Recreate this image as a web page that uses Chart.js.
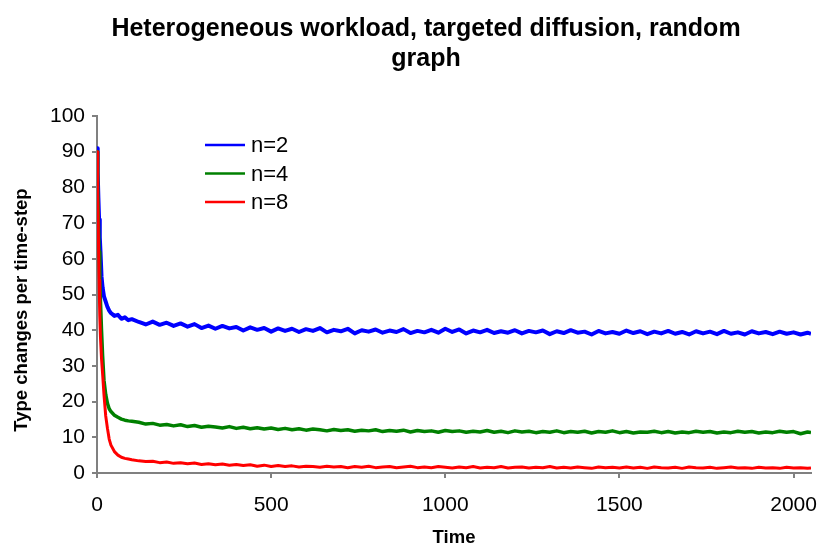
<!DOCTYPE html>
<html>
<head>
<meta charset="utf-8">
<title>Heterogeneous workload, targeted diffusion, random graph</title>
<script src="https://cdn.jsdelivr.net/npm/chart.js@4.4.1/dist/chart.umd.min.js"></script>
<style>
    html, body { margin: 0; padding: 0; background: #fff; }
    #wrap { position: relative; width: 817px; height: 549px; }
</style>
</head>
<body>
<div id="wrap"><canvas id="typeChart"></canvas></div>
<script>
/* --- Data --- */
const titleLines = ['Heterogeneous workload, targeted diffusion, random', 'graph'];
const yAxisTitle = 'Type changes per time-step';
const xAxisTitle = 'Time';
const seriesLabels = ['n=2', 'n=4', 'n=8'];
const seriesColors = ['#0000ff', '#008000', '#ff0000'];
const xTickValues = [0, 500, 1000, 1500, 2000];

const times = [
    0, 2, 4, 6, 8, 10, 13, 16, 20, 25,
    30, 35, 40, 50, 60, 70, 80, 90, 100, 120,
    140, 160, 180, 200, 220, 240, 260, 280, 300, 320,
    340, 360, 380, 400, 420, 440, 460, 480, 500, 520,
    540, 560, 580, 600, 620, 640, 660, 680, 700, 720,
    740, 760, 780, 800, 820, 840, 860, 880, 900, 920,
    940, 960, 980, 1000, 1020, 1040, 1060, 1080, 1100, 1120,
    1140, 1160, 1180, 1200, 1220, 1240, 1260, 1280, 1300, 1320,
    1340, 1360, 1380, 1400, 1420, 1440, 1460, 1480, 1500, 1520,
    1540, 1560, 1580, 1600, 1620, 1640, 1660, 1680, 1700, 1720,
    1740, 1760, 1780, 1800, 1820, 1840, 1860, 1880, 1900, 1920,
    1940, 1960, 1980, 2000, 2020, 2040, 2050
];

const n2 = [
    91, 84, 77, 71, 66, 62, 55, 52, 49.5, 48,
    46.5, 45.5, 44.8, 44, 44.3, 43.2, 43.6, 42.8, 43.1, 42.3,
    41.6, 42.4, 41.5, 42.1, 41.2, 41.9, 41.0, 41.7, 40.6, 41.3,
    40.4, 41.2, 40.5, 40.9, 39.9, 40.8, 40.1, 40.6, 39.6, 40.5,
    39.8, 40.4, 39.5, 40.3, 39.8, 40.6, 39.4, 40.1, 39.7, 40.4,
    39.1, 40.0, 39.6, 40.2, 39.3, 39.9, 39.5, 40.3, 39.2, 39.8,
    39.4, 40.1, 39.3, 40.4, 39.5, 40.2, 39.1, 39.9, 39.4, 40.1,
    39.2, 39.7, 39.3, 40.0, 39.1, 39.8, 39.4, 39.9, 38.9, 39.7,
    39.2, 40.0, 39.3, 39.6, 38.8, 39.8, 39.1, 39.5, 39.0, 39.9,
    39.2, 39.7, 38.9, 39.6, 39.1, 39.8, 39.0, 39.5, 38.8, 39.7,
    39.1, 39.6, 38.9, 39.8, 39.0, 39.4, 38.8, 39.7, 39.1, 39.5,
    38.9, 39.6, 39.0, 39.4, 38.8, 39.3, 39.0
];

const n4 = [
    90, 80, 70, 62, 54, 48, 40, 33, 26, 22,
    19.5, 18, 17.2, 16.2, 15.6, 15.1, 14.8, 14.6, 14.5, 14.2,
    13.7, 13.9, 13.4, 13.6, 13.2, 13.5, 13.0, 13.3, 12.8, 13.1,
    12.9, 12.6, 13.0, 12.5, 12.8, 12.4, 12.7, 12.3, 12.6, 12.2,
    12.5, 12.1, 12.4, 12.0, 12.3, 12.1, 11.8, 12.2, 11.9, 12.1,
    11.7, 12.0, 11.8, 12.1, 11.6, 11.9, 11.7, 12.0, 11.5, 11.9,
    11.6, 11.8, 11.4, 11.9, 11.6, 11.8, 11.4, 11.7, 11.5, 11.9,
    11.4, 11.7, 11.3, 11.8, 11.5, 11.7, 11.3, 11.6, 11.4, 11.8,
    11.3, 11.6, 11.4, 11.7, 11.2, 11.6, 11.4, 11.8, 11.3, 11.6,
    11.2, 11.5, 11.4, 11.7, 11.3, 11.6, 11.2, 11.5, 11.3, 11.7,
    11.4, 11.6, 11.2, 11.5, 11.3, 11.7, 11.4, 11.6, 11.2, 11.5,
    11.3, 11.7, 11.4, 11.6, 11.0, 11.5, 11.3
];

const n8 = [
    90, 78, 66, 54, 44, 38, 32, 28, 22, 16,
    12.5, 9.5, 7.8, 6.0, 5.0, 4.4, 4.1, 3.9, 3.7, 3.4,
    3.2, 3.3, 2.9, 3.1, 2.7, 2.9, 2.6, 2.8, 2.4, 2.6,
    2.3, 2.5, 2.2, 2.4, 2.1, 2.3, 1.9, 2.2, 1.8, 2.1,
    1.8, 2.0, 1.7, 1.9, 1.8, 1.6, 1.9, 1.7, 1.8, 1.5,
    1.8, 1.6, 1.9, 1.5, 1.7, 1.8, 1.5, 1.7, 1.9, 1.5,
    1.7, 1.5, 1.8, 1.6, 1.4, 1.7, 1.5, 1.8, 1.4, 1.6,
    1.5, 1.8, 1.4, 1.6, 1.7, 1.4, 1.6, 1.5, 1.8, 1.4,
    1.6, 1.4, 1.7, 1.5, 1.3, 1.7, 1.5, 1.6, 1.4, 1.7,
    1.4, 1.6, 1.3, 1.7, 1.5, 1.4, 1.6, 1.3, 1.7, 1.5,
    1.4, 1.6, 1.3, 1.5, 1.7, 1.4, 1.5, 1.3, 1.6, 1.4,
    1.5, 1.3, 1.6, 1.4, 1.5, 1.3, 1.4
];

const seriesValues = [n2, n4, n8];
const seriesWidths = [4, 3.5, 3];

/* --- Plugins --- */
const fontFamily = '"Liberation Sans", Arial, sans-serif';

// two-line bold title plus the rotated y title (both sit off-centre in the original)
const titlePlugin = {
    id: 'twoLineTitle',
    afterDraw(chart) {
        const ctx = chart.ctx;
        ctx.save();
        ctx.fillStyle = '#000';
        ctx.font = 'bold 25px ' + fontFamily;
        ctx.textAlign = 'center';
        ctx.textBaseline = 'alphabetic';
        ctx.fillText(titleLines[0], 426, 36);
        ctx.fillText(titleLines[1], 426, 66);

        ctx.font = 'bold 18.5px ' + fontFamily;
        ctx.textBaseline = 'middle';
        ctx.translate(22, 310);
        ctx.rotate(-Math.PI / 2);
        ctx.fillText(yAxisTitle, 0, 0);
        ctx.restore();
    }
};

// legend sits inside the plot area, top-left
const innerLegend = {
    id: 'innerLegend',
    afterDraw(chart) {
        const ctx = chart.ctx;
        ctx.save();
        ctx.font = '22px ' + fontFamily;
        ctx.textBaseline = 'middle';
        chart.data.datasets.forEach((ds, i) => {
            const y = 145 + i * 28.5;
            ctx.strokeStyle = ds.borderColor;
            ctx.lineWidth = 2.5;
            ctx.beginPath();
            ctx.moveTo(205, y);
            ctx.lineTo(245, y);
            ctx.stroke();
            ctx.fillStyle = '#000';
            ctx.fillText(ds.label, 251, y + 1);
        });
        ctx.restore();
    }
};

/* --- Chart.js Setup --- */
const axisGrey = '#808080';
const tickFont = { family: fontFamily, size: 21 };
const titleFont = { family: fontFamily, size: 18.5, weight: 'bold' };

const ctx = document.getElementById('typeChart').getContext('2d');
new Chart(ctx, {
    type: 'line',
    data: {
        datasets: seriesValues.map((vals, i) => ({
            label: seriesLabels[i],
            data: times.map((t, k) => ({ x: t, y: vals[k] })),
            borderColor: seriesColors[i],
            borderWidth: seriesWidths[i],
            borderJoinStyle: 'round',
            pointRadius: 0,
            tension: 0,
            order: 3 - i
        }))
    },
    options: {
        responsive: true,
        maintainAspectRatio: false,
        animation: false,
        layout: { padding: { top: 116, right: 6, left: 0, bottom: 0 } },
        plugins: {
            legend: { display: false },
            tooltip: { enabled: false }
        },
        scales: {
            x: {
                type: 'linear',
                min: 0,
                max: 2050,
                afterFit: (s) => { s.height = 76; s.paddingRight = 0; s.paddingLeft = 0; },
                afterBuildTicks: (s) => { s.ticks = xTickValues.map(v => ({ value: v })); },
                ticks: { color: '#000', font: tickFont, padding: 15, maxRotation: 0, autoSkip: false, callback: (v) => String(v) },
                grid: { drawOnChartArea: false, drawTicks: true, tickLength: 5, color: axisGrey, lineWidth: 2 },
                border: { color: axisGrey, width: 2 },
                title: { display: true, text: xAxisTitle, color: '#000', font: titleFont, padding: { top: 0, bottom: 0 } }
            },
            y: {
                min: 0,
                max: 100,
                afterFit: (s) => { s.width = 97; },
                ticks: { stepSize: 10, color: '#000', font: tickFont, padding: 7 },
                grid: { drawOnChartArea: false, drawTicks: true, tickLength: 5, color: axisGrey, lineWidth: 2 },
                border: { color: axisGrey, width: 2 }
            }
        }
    },
    plugins: [titlePlugin, innerLegend]
});
</script>
</body>
</html>
